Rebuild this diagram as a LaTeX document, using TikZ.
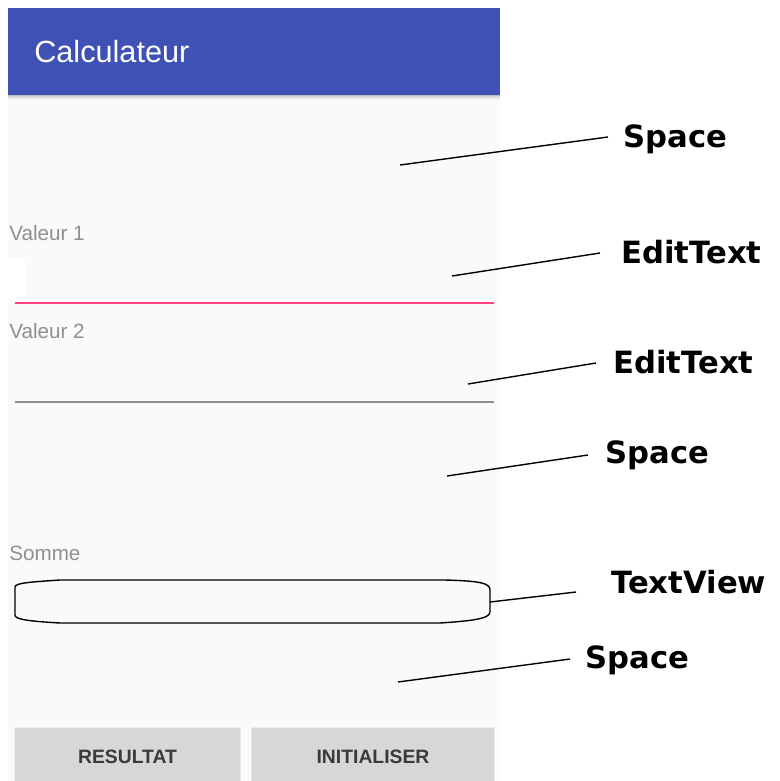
\documentclass[tikz,border=0pt]{standalone}
\usepackage{fontspec}
\setmainfont{Liberation Sans}
\newfontfamily\lblfont{DejaVu Sans}
\definecolor{barblue}{HTML}{3F51B5}
\definecolor{screenbg}{HTML}{FAFAFA}
\definecolor{accentpink}{HTML}{FF4081}
\definecolor{linegray}{HTML}{8E8E8E}
\definecolor{hintgray}{HTML}{8F8F8F}
\definecolor{btnfill}{HTML}{D6D7D7}
\definecolor{btntext}{HTML}{3A3A3A}
\begin{document}
\begin{tikzpicture}[x=0.75pt,y=-0.75pt,
  lbl/.style={anchor=base west,inner sep=0pt,font=\lblfont\bfseries\fontsize{23}{25}\selectfont,text=black},
  hint/.style={anchor=base west,inner sep=0pt,font=\fontsize{15.5}{17}\selectfont,text=hintgray},
  btn/.style={fill=btnfill,draw=none},
  btnlbl/.style={anchor=base,inner sep=0pt,font=\bfseries\fontsize{14.5}{16}\selectfont,text=btntext},
  conn/.style={draw=black,line width=1.05pt}]
\useasboundingbox (0,0) rectangle (780,781);
\fill[white] (0,0) rectangle (780,781);
% screen
\fill[screenbg] (8,95) rectangle (500,781);
% shadow under bar
\foreach \i/\o in {0/0.25,1/0.15,2/0.09,3/0.05,4/0.025}{
  \fill[black,opacity=\o] (8,95+\i) rectangle (500,96+\i);
}
\fill[barblue] (8,8) rectangle (500,95);
\node[anchor=base west,inner sep=0pt,text=white,font=\fontsize{23}{25}\selectfont] (title) at (34,63) {Calculateur};
% fields
\node[hint] (v1) at (9,240) {Valeur 1};
\fill[white] (8,258) rectangle (25,299);
\draw[accentpink,line width=1.6pt] (15,303) -- (494,303);
\node[hint] (v2) at (9,338) {Valeur 2};
\draw[linegray,line width=1.6pt] (15,402) -- (494,402);
\node[hint] (som) at (9,560) {Somme};
% textview outline
\draw[black,line width=1.05pt] (15,600) -- (15,587) .. controls (15,583) and (30,582) .. (60,580) -- (445,580) .. controls (480,581) and (490,583) .. (490,590) -- (490,612) .. controls (490,619) and (470,621) .. (440,623) -- (60,623) .. controls (25,621) and (15,619) .. (15,615) -- cycle;
\coordinate (tv) at (490,602);
% buttons
\fill[black,opacity=0.06] (14,727) rectangle (241,781);
\fill[black,opacity=0.06] (251,727) rectangle (495,781);
\fill[btn] (15,728) rectangle (240,781);
\fill[btn] (252,728) rectangle (494,781);
\node[btnlbl] (b1) at (127.5,763) {RESULTAT};
\node[btnlbl] (b2) at (373,763) {INITIALISER};
% labels
\node[lbl] (l1) at (623,147) {Space};
\node[lbl] (l2) at (621,263) {EditText};
\node[lbl] (l3) at (613,373) {EditText};
\node[lbl] (l4) at (605,463) {Space};
\node[lbl] (l5) at (611,593) {TextView};
\node[lbl] (l6) at (585,668) {Space};
% connector endpoints
\coordinate (s1) at (400,165); \coordinate (e1) at (608,137);
\coordinate (s2) at (452,276); \coordinate (e2) at (600,253);
\coordinate (s3) at (468,384); \coordinate (e3) at (596,363);
\coordinate (s4) at (447,476); \coordinate (e4) at (588,455);
\coordinate (e5) at (576,592);
\coordinate (s6) at (398,682); \coordinate (e6) at (570,659);
\draw[conn] (s1) -- (e1);
\draw[conn] (s2) -- (e2);
\draw[conn] (s3) -- (e3);
\draw[conn] (s4) -- (e4);
\draw[conn] (tv) -- (e5);
\draw[conn] (s6) -- (e6);
\end{tikzpicture}
\end{document}
